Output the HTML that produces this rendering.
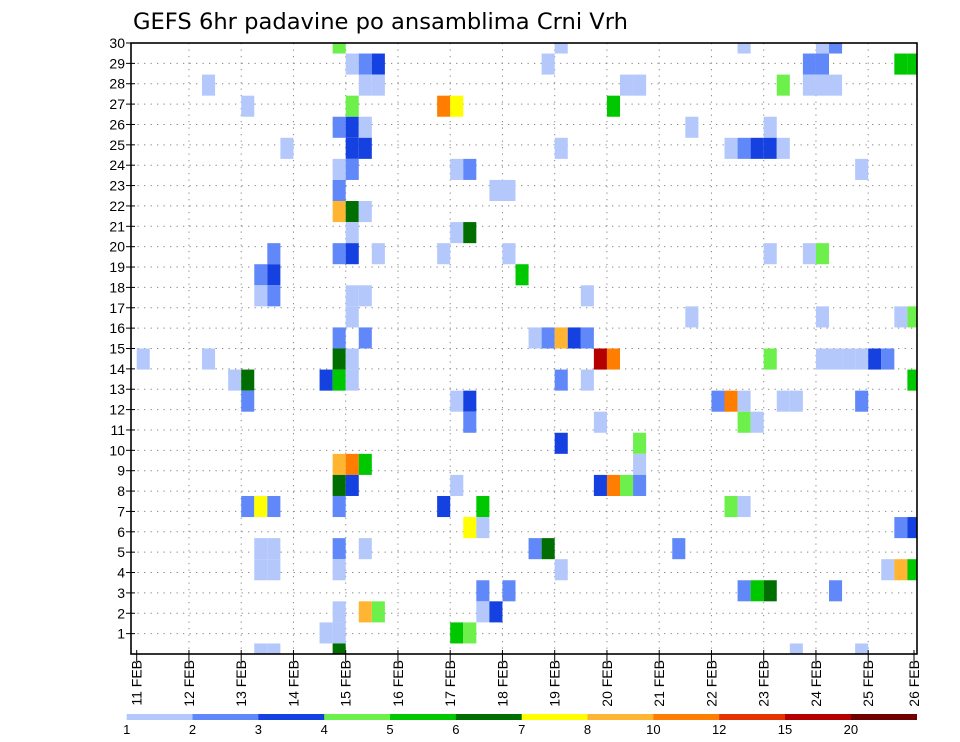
<!DOCTYPE html>
<html><head><meta charset="utf-8"><style>
body{margin:0;background:#fff;width:960px;height:742px;overflow:hidden}
svg{display:block;font-family:"Liberation Sans",sans-serif}
</style></head><body>
<svg id="chart" width="960" height="742" viewBox="0 0 960 742">
<text x="133" y="29" font-size="22" font-family="DejaVu Sans, sans-serif" textLength="495" lengthAdjust="spacingAndGlyphs" fill="#000">GEFS 6hr padavine po ansamblima Crni Vrh</text>
<g id="grid"></g><g id="cells"></g><g id="axes"></g><g id="cbar"></g>
</svg>
<script>
// data: cell member index, 6-hour step index from 11 FEB 00Z, precipitation value
const members=[30,30,30,30,30,29,29,29,29,29,29,29,29,28,28,28,28,28,28,28,28,28,27,27,27,27,27,26,26,26,26,26,25,25,25,25,25,25,25,25,25,24,24,24,24,24,23,23,23,22,22,22,21,21,21,20,20,20,20,20,20,20,20,20,19,19,19,18,18,18,18,18,17,17,17,17,17,16,16,16,16,16,16,16,15,15,15,15,15,15,15,15,15,15,15,15,15,14,14,14,14,14,14,14,14,13,13,13,13,13,13,13,13,13,12,12,12,12,11,11,10,10,10,10,9,9,9,9,9,9,9,8,8,8,8,8,8,8,8,7,7,7,7,6,6,6,6,6,6,6,5,5,5,5,5,5,5,4,4,4,4,4,4,3,3,3,3,3,2,2,2,2,1,1,1,1,1];
const steps=[15,32,46,52,53,16,17,18,31,51,52,58,59,5,17,18,37,38,49,51,52,53,8,16,23,24,36,15,16,17,42,48,11,16,17,32,45,46,47,48,49,15,16,24,25,55,15,27,28,15,16,17,16,24,25,10,15,16,18,23,28,48,51,52,9,10,29,9,10,16,17,34,16,42,52,58,59,15,17,30,31,32,33,34,0,5,15,16,35,36,48,52,53,54,55,56,57,7,8,14,15,16,32,34,59,8,24,25,44,45,46,49,50,55,25,35,46,47,32,38,15,16,17,38,15,16,24,35,36,37,38,8,9,10,15,23,26,45,46,25,26,58,59,9,10,15,17,30,31,41,9,10,15,32,57,58,59,26,28,46,47,48,53,15,17,18,26,27,14,15,24,25,9,10,15,50,55];
const values=[4.5,1.5,1.5,1.5,2.5,1.5,2.5,3.5,1.5,2.5,2.5,5.5,5.5,1.5,1.5,1.5,1.5,1.5,4.5,1.5,1.5,1.5,1.5,4.5,11,7.5,5.5,2.5,3.5,1.5,1.5,1.5,1.5,3.5,3.5,1.5,1.5,2.5,3.5,3.5,1.5,1.5,2.5,1.5,2.5,1.5,2.5,1.5,1.5,9,6.5,1.5,1.5,1.5,6.5,2.5,2.5,3.5,1.5,1.5,1.5,1.5,1.5,4.5,2.5,3.5,5.5,1.5,2.5,1.5,1.5,1.5,1.5,1.5,1.5,1.5,4.5,2.5,2.5,1.5,2.5,9,3.5,2.5,1.5,1.5,6.5,1.5,17,11,4.5,1.5,1.5,1.5,1.5,3.5,2.5,1.5,6.5,3.5,5.5,1.5,2.5,1.5,5.5,2.5,1.5,3.5,2.5,11,1.5,1.5,1.5,2.5,2.5,1.5,4.5,1.5,3.5,4.5,9,11,5.5,1.5,6.5,3.5,1.5,3.5,11,4.5,2.5,2.5,7.5,2.5,2.5,3.5,5.5,4.5,1.5,7.5,1.5,2.5,3.5,1.5,1.5,2.5,1.5,2.5,6.5,2.5,1.5,1.5,1.5,1.5,1.5,9,5.5,2.5,2.5,2.5,5.5,6.5,2.5,1.5,9,4.5,1.5,3.5,1.5,1.5,5.5,4.5,1.5,1.5,6.5,1.5,1.5];
const levels=[1,2,3,4,5,6,7,8,10,12,15,20];
const levelColors=["#b4c8fb","#6088f8","#1441e0","#6ef04c","#00c800","#006e00","#ffff00","#ffb432","#ff7d00","#e63200","#b40000","#6e0000"];
const dayLabels=["11 FEB","12 FEB","13 FEB","14 FEB","15 FEB","16 FEB","17 FEB","18 FEB","19 FEB","20 FEB","21 FEB","22 FEB","23 FEB","24 FEB","25 FEB","26 FEB"];
const yTicks=[1,2,3,4,5,6,7,8,9,10,11,12,13,14,15,16,17,18,19,20,21,22,23,24,25,26,27,28,29,30];

const NS="http://www.w3.org/2000/svg";
const L=131,R=917,T=43,B=654;
const x0=136.7,dayW=52.25,stepW=dayW/4;
const xStep=k=>x0+k*stepW;
const xDay=d=>x0+d*dayW;
const yTick=v=>B-v*(B-T)/30;
const yMem=m=>B-(m-1)*(B-T)/29;
const cellH=(B-T)/29;
function colorFor(v){let c=levelColors[0];for(let i=0;i<levels.length;i++){if(v>=levels[i])c=levelColors[i];}return c;}
function mk(tag,attrs,parent){const e=document.createElementNS(NS,tag);for(const a in attrs)e.setAttribute(a,attrs[a]);parent.appendChild(e);return e;}

const grid=document.getElementById('grid');
for(const v of yTicks){if(v===30)continue;
 const ln=mk('line',{x1:L,x2:R,y1:yTick(v),y2:yTick(v),stroke:'#888','stroke-width':1,'stroke-dasharray':'1.3 5.2'},grid);
 
 }
for(let d=1;d<dayLabels.length;d++){const x=xDay(d);if(x>R)continue;
 const ln=mk('line',{x1:x,x2:x,y1:T,y2:B,stroke:'#888','stroke-width':1,'stroke-dasharray':'1.3 5.2'},grid);
 
 }

const cg=document.getElementById('cells');
for(let i=0;i<values.length;i++){
 let xa=Math.max(L,xStep(steps[i])),xb=Math.min(R,xStep(steps[i]+1));
 let yc=yMem(members[i]);let ya=Math.max(T,yc-cellH/2),yb=Math.min(B,yc+cellH/2);
 const r=mk('rect',{x:xa,y:ya,width:xb-xa,height:yb-ya,fill:colorFor(values[i])},cg);
 
 }

const ax=document.getElementById('axes');
const fr=mk('rect',{x:L,y:T,width:R-L,height:B-T,fill:'none',stroke:'#000','stroke-width':1.6},ax);


for(const v of yTicks){const y=yTick(v);
 mk('line',{x1:L-5,x2:L+4,y1:y,y2:y,stroke:'#000','stroke-width':1},ax);
 const t=mk('text',{x:L-6,y:y+5,'font-size':14,'text-anchor':'end',fill:'#000'},ax);
 t.textContent=v;
 
 }
for(let d=0;d<dayLabels.length;d++){let x=xDay(d);if(x>R)x=R-3;
 mk('line',{x1:x,x2:x,y1:B-4,y2:B+8,stroke:'#000','stroke-width':1},ax);
 const t=mk('text',{x:0,y:0,'font-size':14,'text-anchor':'end',fill:'#000',transform:`translate(${x+5},${B+6}) rotate(-90)`},ax);
 t.textContent=dayLabels[d];
 
 }

const cb=document.getElementById('cbar');
const cbL=126.7,cbR=916.7,segW=(cbR-cbL)/levels.length;
for(let i=0;i<levels.length;i++){
 const r=mk('rect',{x:cbL+i*segW,y:714,width:segW+0.3,height:6,fill:levelColors[i]},cb);
 
 
 const t=mk('text',{x:cbL+i*segW,y:734,'font-size':13,'text-anchor':'middle',fill:'#000'},cb);
 t.textContent=levels[i];
 
 }
</script>
</body></html>
